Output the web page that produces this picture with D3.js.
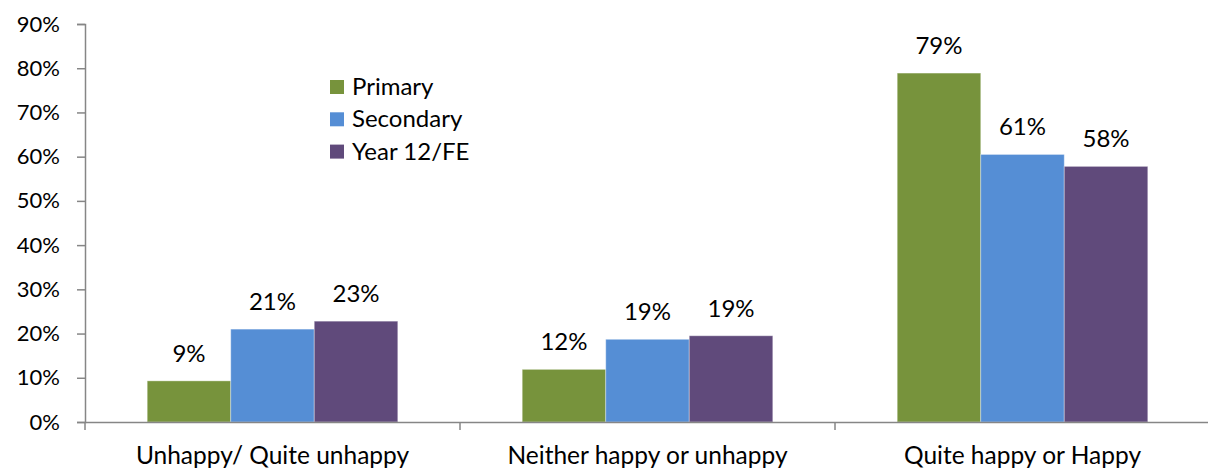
<!DOCTYPE html>
<html>
<head>
<meta charset="utf-8">
<script src="https://cdn.jsdelivr.net/npm/d3@7"></script>
<style>
  html, body { margin: 0; padding: 0; background: #fff; }
  svg { display: block; font-family: Lato, "Open Sans", sans-serif; }
</style>
</head>
<body>
<svg id="chart" width="1208" height="470"></svg>
<script>
const categories = ["Unhappy/ Quite unhappy", "Neither happy or unhappy", "Quite happy or Happy"];
const seriesNames = ["Primary", "Secondary", "Year 12/FE"];
const primary = [0.093, 0.119, 0.789];
const secondary = [0.210, 0.187, 0.605];
const year12 = [0.228, 0.195, 0.578];
const labelsPrimary = ["9%", "12%", "79%"];
const labelsSecondary = ["21%", "19%", "61%"];
const labelsYear12 = ["23%", "19%", "58%"];
const colors = ["#77933C", "#558ED5", "#604A7B"];
const yTicks = [0, 0.1, 0.2, 0.3, 0.4, 0.5, 0.6, 0.7, 0.8, 0.9];

const seriesValues = [primary, secondary, year12];
const seriesLabels = [labelsPrimary, labelsSecondary, labelsYear12];

const svg = d3.select("#chart");
const mLeft = 85, mRight = 1210, mTop = 24, mBottom = 422;

const x0 = d3.scaleBand().domain(categories).range([mLeft, mRight]).paddingInner(0).paddingOuter(0);
const x1 = d3.scaleBand().domain(seriesNames).range([0, x0.bandwidth()]).paddingInner(0).paddingOuter(0.745);
const y = d3.scaleLinear().domain([0, 0.9]).range([mBottom, mTop]);
const color = d3.scaleOrdinal().domain(seriesNames).range(colors);

// Y axis
const yAxis = d3.axisLeft(y).tickValues(yTicks).tickFormat(d3.format(".0%")).tickSize(8).tickPadding(17);
const gy = svg.append("g").attr("transform", `translate(${mLeft},0)`).call(yAxis);
gy.select(".domain").attr("stroke", "#868686").attr("stroke-width", 1.5);
gy.selectAll(".tick line").attr("stroke", "#868686").attr("stroke-width", 1.5);
gy.selectAll(".tick text").attr("font-size", 22).attr("fill", "#000").attr("font-family", "Lato, sans-serif");

// Bars
const groups = svg.append("g").selectAll("g")
  .data(categories)
  .join("g")
  .attr("transform", d => `translate(${x0(d)},0)`);

groups.each(function(cat, ci) {
  const g = d3.select(this);
  seriesNames.forEach((s, si) => {
    const v = seriesValues[si][ci];
    g.append("rect")
      .attr("x", x1(s))
      .attr("y", y(v))
      .attr("width", x1.bandwidth())
      .attr("height", y(0) - y(v))
      .attr("fill", color(s))
      .attr("stroke", "rgba(255,255,255,0.35)")
      .attr("stroke-width", 1);
    g.append("text")
      .attr("x", x1(s) + x1.bandwidth() / 2)
      .attr("y", y(v) - 19)
      .attr("text-anchor", "middle")
      .attr("font-size", 24)
      .attr("fill", "#000")
      .text(seriesLabels[si][ci]);
  });
});

// X axis
const xAxis = d3.axisBottom(x0).tickSize(0).tickPadding(0);
const gx = svg.append("g").attr("transform", `translate(0,${mBottom})`).call(xAxis);
gx.select(".domain").attr("stroke", "#868686").attr("stroke-width", 1.5);
gx.selectAll(".tick text").remove();
const boundaries = [mLeft].concat(categories.map(c => x0(c) + x0.bandwidth()));
gx.selectAll(".bound").data(boundaries).join("line")
  .attr("class", "bound")
  .attr("x1", d => d).attr("x2", d => d)
  .attr("y1", 0).attr("y2", 8)
  .attr("stroke", "#868686").attr("stroke-width", 1.5);
svg.append("g").selectAll("text").data(categories).join("text")
  .attr("x", d => x0(d) + x0.bandwidth() / 2)
  .attr("y", 464)
  .attr("text-anchor", "middle")
  .attr("font-size", 24.5)
  .attr("fill", "#000")
  .text(d => d);

// Legend
const legend = svg.append("g").attr("transform", "translate(330,80)");
seriesNames.forEach((s, i) => {
  const row = legend.append("g").attr("transform", `translate(0,${i * 32.3})`);
  row.append("rect").attr("x", 0).attr("y", 0).attr("width", 14).attr("height", 14).attr("fill", color(s));
  row.append("text").attr("x", 22).attr("y", 15).attr("font-size", 24).attr("fill", "#000").text(s);
});
</script>
</body>
</html>
